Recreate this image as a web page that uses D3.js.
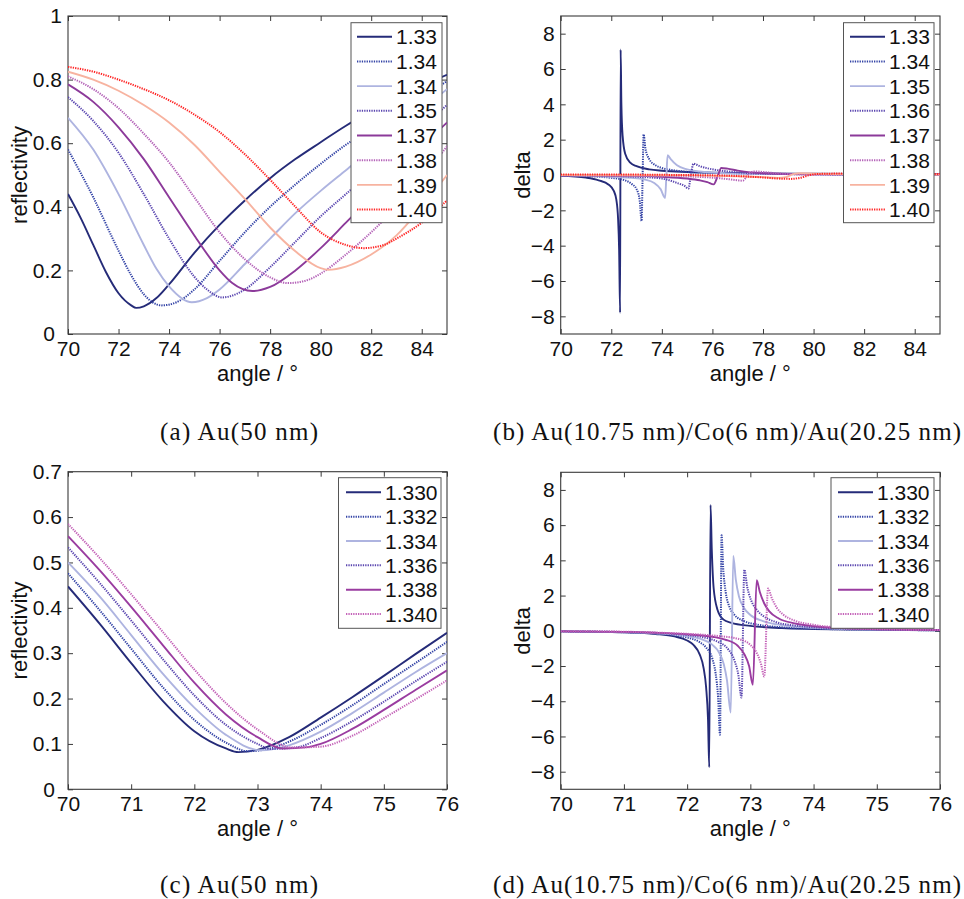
<!DOCTYPE html>
<html><head><meta charset="utf-8">
<script src="https://cdn.jsdelivr.net/npm/d3@7"></script>
<style>body{margin:0;background:#fff} svg{display:block}</style>
</head><body><svg id="c" width="964" height="899"></svg>
<script>
// ---------- DATA ----------
const xTicksWide = [70,72,74,76,78,80,82,84];
const xTicksNarrow = [70,71,72,73,74,75,76];
const yTicksA = [0,0.2,0.4,0.6,0.8,1];
const yTicksC = [0,0.1,0.2,0.3,0.4,0.5,0.6,0.7];
const yTicksDelta = [-8,-6,-4,-2,0,2,4,6,8];

const legendA = ["1.33","1.34","1.34","1.35","1.37","1.38","1.39","1.40"];
const legendB = ["1.33","1.34","1.35","1.36","1.37","1.38","1.39","1.40"];
const legendCD = ["1.330","1.332","1.334","1.336","1.338","1.340"];

const captions = ["(a) Au(50 nm)","(b) Au(10.75 nm)/Co(6 nm)/Au(20.25 nm)","(c) Au(50 nm)","(d) Au(10.75 nm)/Co(6 nm)/Au(20.25 nm)"];

// (a) reflectivity, Au(50 nm)
const reflA133 = [[70,0.44],[70.5,0.365],[71,0.28],[71.5,0.195],[72,0.128],[72.5,0.09],[72.7,0.082],[73,0.087],[73.5,0.113],[74,0.156],[75,0.255],[76,0.343],[77,0.42],[78,0.49],[79,0.55],[80,0.603],[81,0.655],[82,0.70],[83,0.74],[84,0.78],[85,0.815]];
const reflA134 = [[70,0.58],[71,0.43],[72,0.262],[72.5,0.185],[73,0.125],[73.7,0.09],[74.3,0.1],[75,0.14],[76,0.23],[77,0.32],[78,0.40],[79,0.47],[80,0.535],[81,0.595],[82,0.645],[83,0.695],[84,0.745],[85,0.795]];
const reflA134b = [[70,0.68],[71,0.58],[72,0.44],[73,0.28],[73.5,0.205],[74,0.15],[74.9,0.10],[75.5,0.113],[76,0.14],[77,0.22],[78,0.30],[79,0.38],[80,0.45],[81,0.515],[82,0.58],[83,0.64],[84,0.705],[85,0.77]];
const reflA135 = [[70,0.745],[71,0.67],[72,0.57],[73,0.44],[74,0.30],[75,0.18],[75.5,0.14],[76.1,0.115],[76.7,0.127],[77,0.14],[78,0.21],[79,0.29],[80,0.37],[81,0.44],[82,0.51],[83,0.58],[84,0.65],[85,0.72]];
const reflA137 = [[70,0.785],[71,0.73],[72,0.65],[73,0.55],[74,0.43],[75,0.31],[76,0.20],[76.5,0.16],[77.3,0.135],[78,0.148],[79,0.20],[80,0.27],[81,0.35],[82,0.43],[83,0.51],[84,0.59],[85,0.665]];
const reflA138 = [[70,0.81],[71,0.77],[72,0.71],[73,0.63],[74,0.54],[75,0.43],[76,0.32],[77,0.235],[78,0.178],[78.7,0.16],[79.5,0.17],[80,0.19],[81,0.25],[82,0.32],[83,0.40],[84,0.49],[85,0.59]];
const reflA139 = [[70,0.825],[71,0.80],[72,0.765],[73,0.72],[74,0.665],[75,0.595],[76,0.51],[77,0.425],[78,0.335],[79,0.26],[80,0.207],[80.3,0.202],[81,0.212],[82,0.25],[83,0.31],[84,0.40],[85,0.50]];
const reflA140 = [[70,0.84],[71,0.825],[72,0.80],[73,0.77],[74,0.735],[75,0.69],[76,0.635],[77,0.565],[78,0.485],[79,0.40],[80,0.32],[81,0.28],[81.7,0.27],[82.5,0.28],[83,0.30],[84,0.35],[85,0.42]];

// (b) delta, Au/Co/Au
const deltaB133 = [[70,-0.04],[71,-0.15],[71.5,-0.3],[71.9,-0.55],[72.1,-0.9],[72.2,-1.4],[72.27,-2.5],[72.31,-4.2],[72.35,-7.8],[72.37,7.1],[72.4,4],[72.45,2.2],[72.55,1.2],[72.75,0.7],[73,0.5],[73.5,0.32],[74,0.24],[75,0.17],[76,0.13],[78,0.09],[80,0.07],[82,0.05],[85,0.04]];
const deltaB134 = [[70,-0.02],[71,-0.06],[72,-0.16],[72.5,-0.28],[72.8,-0.5],[73,-0.8],[73.12,-1.4],[73.2,-2.6],[73.24,0],[73.28,2.3],[73.35,1.5],[73.5,0.9],[73.75,0.55],[74,0.4],[74.5,0.26],[75,0.18],[76,0.12],[78,0.07],[80,0.05],[85,0.03]];
const deltaB135 = [[70,-0.02],[71,-0.05],[72,-0.1],[72.8,-0.16],[73.3,-0.25],[73.7,-0.45],[73.95,-0.8],[74.13,-1.3],[74.18,0],[74.23,1.12],[74.35,0.9],[74.6,0.55],[75,0.32],[75.5,0.2],[76,0.14],[77,0.08],[80,0.04],[85,0.02]];
const deltaB136 = [[70,-0.01],[72,-0.05],[73,-0.1],[74,-0.2],[74.3,-0.3],[74.6,-0.45],[74.9,-0.62],[75.05,-0.77],[75.15,0],[75.25,0.64],[75.5,0.5],[76,0.32],[76.5,0.22],[77,0.15],[78,0.08],[80,0.04],[85,0.02]];
const deltaB137 = [[70,-0.01],[73,-0.05],[74,-0.1],[75,-0.2],[75.5,-0.3],[75.8,-0.4],[76.05,-0.53],[76.2,-0.1],[76.35,0.4],[76.6,0.36],[77,0.25],[77.5,0.15],[78,0.1],[79,0.05],[85,0.02]];
const deltaB138 = [[70,-0.01],[74,-0.05],[75,-0.08],[76,-0.15],[76.6,-0.23],[77,-0.3],[77.2,-0.32],[77.35,-0.1],[77.5,0.15],[77.7,0.2],[78,0.17],[78.5,0.1],[79,0.06],[80,0.03],[85,0.01]];
const deltaB139 = [[70,0],[75,-0.02],[77,-0.08],[78,-0.12],[78.6,-0.16],[78.9,-0.12],[79.2,0.05],[79.5,0.1],[80,0.08],[81,0.05],[85,0.02]];
const deltaB140 = [[70,0.03],[72,0.03],[74,0.01],[76,-0.02],[77,-0.06],[78,-0.14],[78.6,-0.2],[79.1,-0.22],[79.5,-0.15],[79.8,-0.02],[80.2,0.06],[81,0.08],[82,0.07],[83,0.06],[85,0.05]];

// (c) reflectivity, Au(50 nm), narrow range
const reflC1330 = [[70,0.447],[70.5,0.365],[71,0.278],[71.5,0.195],[72,0.128],[72.5,0.09],[72.7,0.082],[73,0.087],[73.5,0.115],[74,0.158],[74.5,0.203],[75,0.25],[75.5,0.298],[76,0.345]];
const reflC1332 = [[70,0.476],[70.5,0.395],[71,0.31],[71.5,0.225],[72,0.153],[72.5,0.103],[72.85,0.084],[73.2,0.09],[73.5,0.105],[74,0.142],[74.5,0.185],[75,0.232],[75.5,0.278],[76,0.325]];
const reflC1334 = [[70,0.50],[70.5,0.425],[71,0.34],[71.5,0.255],[72,0.18],[72.5,0.12],[73.05,0.086],[73.5,0.097],[74,0.127],[74.5,0.168],[75,0.213],[75.5,0.258],[76,0.30]];
const reflC1336 = [[70,0.533],[70.5,0.455],[71,0.372],[71.5,0.287],[72,0.207],[72.5,0.142],[73,0.1],[73.2,0.089],[73.6,0.092],[74,0.113],[74.5,0.15],[75,0.193],[75.5,0.238],[76,0.281]];
const reflC1338 = [[70,0.558],[70.5,0.483],[71,0.402],[71.5,0.318],[72,0.235],[72.5,0.165],[73,0.115],[73.4,0.09],[73.8,0.093],[74,0.1],[74.5,0.133],[75,0.175],[75.5,0.219],[76,0.262]];
const reflC1340 = [[70,0.585],[70.5,0.51],[71,0.43],[71.5,0.347],[72,0.264],[72.5,0.19],[73,0.132],[73.55,0.092],[74,0.094],[74.5,0.118],[75,0.157],[75.5,0.198],[76,0.24]];

// (d) delta, narrow range
const deltaD1330 = [[70,-0.03],[71,-0.09],[71.5,-0.18],[71.8,-0.32],[72,-0.55],[72.1,-0.8],[72.2,-1.35],[72.26,-2.1],[72.3,-3.2],[72.33,-5.0],[72.35,-7.75],[72.37,7.15],[72.39,4.6],[72.42,2.4],[72.48,1.2],[72.57,0.65],[72.7,0.45],[73,0.28],[73.5,0.15],[74,0.1],[75,0.05],[76,0.03]];
const deltaD1332 = [[70,-0.03],[71,-0.08],[71.5,-0.15],[71.8,-0.25],[72,-0.38],[72.2,-0.65],[72.3,-0.95],[72.4,-1.6],[72.45,-2.4],[72.49,-3.8],[72.52,-5.9],[72.545,5.42],[72.57,3.6],[72.61,2.2],[72.67,1.35],[72.75,0.9],[72.9,0.55],[73.1,0.36],[73.5,0.2],[74,0.12],[75,0.06],[76,0.03]];
const deltaD1334 = [[70,-0.03],[71,-0.08],[71.5,-0.14],[72,-0.3],[72.2,-0.45],[72.4,-0.8],[72.5,-1.2],[72.58,-1.9],[72.63,-2.8],[72.69,-4.64],[72.73,4.25],[72.77,2.9],[72.82,1.95],[72.9,1.3],[73,0.9],[73.2,0.55],[73.5,0.32],[74,0.17],[75,0.07],[76,0.04]];
const deltaD1336 = [[70,-0.03],[71,-0.07],[71.5,-0.12],[72,-0.24],[72.3,-0.4],[72.5,-0.65],[72.65,-1.05],[72.75,-1.7],[72.81,-2.5],[72.86,-3.79],[72.905,3.47],[72.95,2.5],[73.01,1.75],[73.1,1.2],[73.2,0.85],[73.4,0.5],[73.7,0.3],[74,0.2],[75,0.08],[76,0.04]];
const deltaD1338 = [[70,-0.03],[71,-0.06],[71.5,-0.11],[72,-0.2],[72.4,-0.34],[72.6,-0.5],[72.8,-0.85],[72.9,-1.3],[72.98,-2.0],[73.04,-3.07],[73.1,2.87],[73.15,2.2],[73.22,1.55],[73.3,1.1],[73.45,0.7],[73.7,0.42],[74,0.26],[74.5,0.14],[75,0.09],[76,0.04]];
const deltaD1340 = [[70,-0.02],[71,-0.05],[71.5,-0.1],[72,-0.17],[72.5,-0.3],[72.8,-0.45],[73,-0.8],[73.1,-1.25],[73.17,-1.9],[73.22,-2.6],[73.28,2.4],[73.34,1.85],[73.42,1.3],[73.52,0.92],[73.7,0.58],[74,0.34],[74.5,0.17],[75,0.1],[76,0.05]];

// ---------- STYLES ----------
const colors8 = ["#252b78","#3343a6","#aeb4e0","#5a46b0","#8c3a9a","#b462b8","#f7b3a0","#ff2424"];
const dotted8 = [false,true,false,true,false,true,false,true];
const colors6 = ["#252b78","#3343a6","#aeb4e0","#5a46b0","#9a3ca0","#c462b8"];
const dotted6 = [false,true,false,true,false,true];

const panels = [
  {x0:68,x1:447,y0:16,y1:334,xdom:[70,85],ydom:[0,1],xt:xTicksWide,yt:yTicksA,yfmt:d3.format("~g"),ylabel:"reflectivity",ylx:20,
   series:[reflA133,reflA134,reflA134b,reflA135,reflA137,reflA138,reflA139,reflA140],labels:legendA,colors:colors8,dotted:dotted8,
   leg:{x0:351,x1:442,y0:22.7,y1:222.7,lx0:357,lx1:392,tx:396,r0:36.7,dr:24.7},cap:captions[0],capx:160,capy:440,capw:158},
  {x0:560.7,x1:940,y0:16,y1:334,xdom:[70,85],ydom:[-9,9],xt:xTicksWide,yt:yTicksDelta,yfmt:d3.format("d"),ylabel:"delta",ylx:523,
   series:[deltaB133,deltaB134,deltaB135,deltaB136,deltaB137,deltaB138,deltaB139,deltaB140],labels:legendB,colors:colors8,dotted:dotted8,
   leg:{x0:843.5,x1:934,y0:22.7,y1:222.7,lx0:850,lx1:885,tx:889,r0:36.7,dr:24.7},cap:captions[1],capx:493,capy:440,capw:468},
  {x0:68,x1:447,y0:471.7,y1:789.3,xdom:[70,76],ydom:[0,0.7],xt:xTicksNarrow,yt:yTicksC,yfmt:d3.format("~g"),ylabel:"reflectivity",ylx:20,
   series:[reflC1330,reflC1332,reflC1334,reflC1336,reflC1338,reflC1340],labels:legendCD,colors:colors6,dotted:dotted6,
   leg:{x0:338.5,x1:441,y0:477.7,y1:628.3,lx0:346,lx1:381,tx:385,r0:492.3,dr:24.35},cap:captions[2],capx:160,capy:893,capw:158},
  {x0:560.7,x1:940,y0:472.3,y1:789.3,xdom:[70,76],ydom:[-9,9],xt:xTicksNarrow,yt:yTicksDelta,yfmt:d3.format("d"),ylabel:"delta",ylx:523,
   series:[deltaD1330,deltaD1332,deltaD1334,deltaD1336,deltaD1338,deltaD1340],labels:legendCD,colors:colors6,dotted:dotted6,
   leg:{x0:831,x1:934,y0:477.7,y1:628.3,lx0:838,lx1:873,tx:877,r0:492.3,dr:24.35},cap:captions[3],capx:493,capy:893,capw:468}
];

const svg = d3.select("#c");
const FONT = "'Liberation Sans', Arial, Helvetica, sans-serif";
const AXC = "#3a3a3a";
const TFS = 21;

panels.forEach((p,i)=>{
  const x = d3.scaleLinear().domain(p.xdom).range([p.x0,p.x1]);
  const y = d3.scaleLinear().domain(p.ydom).range([p.y1,p.y0]);
  const g = svg.append("g");
  const cid = "clip"+i;
  svg.append("defs").append("clipPath").attr("id",cid).append("rect")
    .attr("x",p.x0).attr("y",p.y0).attr("width",p.x1-p.x0).attr("height",p.y1-p.y0);

  // axes with inward ticks on all four sides
  const tl = 5;
  const bottom = d3.axisBottom(x).tickValues(p.xt).tickSize(-tl).tickPadding(7).tickFormat(d3.format("d"));
  const top = d3.axisTop(x).tickValues(p.xt).tickSize(-tl).tickFormat("");
  const left = d3.axisLeft(y).tickValues(p.yt).tickSize(-tl).tickPadding(6).tickFormat(p.yfmt);
  const right = d3.axisRight(y).tickValues(p.yt).tickSize(-tl).tickFormat("");
  [[bottom,`translate(0,${p.y1})`,"b"],[top,`translate(0,${p.y0})`,"t"],[left,`translate(${p.x0},0)`,"l"],[right,`translate(${p.x1},0)`,"r"]].forEach(([ax,tr,side])=>{
    const a = g.append("g").attr("transform",tr).call(ax);
    a.select(".domain").remove();
    a.selectAll("line").attr("stroke",AXC).attr("stroke-width",1);
    a.selectAll("text").attr("font-family",FONT).attr("font-size",TFS).attr("fill","#111");
    if (side==="l") {
      // nudge the bottom-corner label so it does not sit on top of the first x label
      a.selectAll(".tick").filter(d=>y(d)>p.y1-1).select("text").attr("x",-13);
    }
  });
  g.append("rect").attr("x",p.x0).attr("y",p.y0).attr("width",p.x1-p.x0).attr("height",p.y1-p.y0)
    .attr("fill","none").attr("stroke",AXC).attr("stroke-width",1.1);

  // lines
  const line = d3.line().x(d=>x(d[0])).y(d=>y(d[1])).curve(d3.curveMonotoneX);
  const lg = g.append("g").attr("clip-path",`url(#${cid})`);
  p.series.forEach((s,k)=>{
    lg.append("path").attr("d",line(s)).attr("fill","none")
      .attr("stroke",p.colors[k]).attr("stroke-width",p.dotted[k]?2:1.9)
      .attr("stroke-dasharray",p.dotted[k]?"1.3 1.1":null)
      .attr("stroke-linejoin","round");
  });

  // legend
  const L = p.leg;
  g.append("rect").attr("x",L.x0).attr("y",L.y0).attr("width",L.x1-L.x0).attr("height",L.y1-L.y0)
    .attr("fill","#fff").attr("stroke","#555").attr("stroke-width",1);
  p.labels.forEach((lab,k)=>{
    const yy = L.r0 + k*L.dr;
    g.append("line").attr("x1",L.lx0).attr("x2",L.lx1).attr("y1",yy).attr("y2",yy)
      .attr("stroke",p.colors[k]).attr("stroke-width",p.dotted[k]?2:1.9)
      .attr("stroke-dasharray",p.dotted[k]?"1.3 1.1":null);
    g.append("text").attr("x",L.tx).attr("y",yy+7.6).text(lab)
      .attr("font-family",FONT).attr("font-size",TFS).attr("fill","#111");
  });

  // axis labels
  g.append("text").attr("x",(p.x0+p.x1)/2).attr("y",p.y1+47).attr("text-anchor","middle")
    .attr("font-family",FONT).attr("font-size",22).attr("fill","#111").text("angle / °");
  g.append("text").attr("transform",`translate(${p.ylx+7},${(p.y0+p.y1)/2}) rotate(-90)`).attr("text-anchor","middle")
    .attr("font-family",FONT).attr("font-size",22).attr("fill","#111").text(p.ylabel);

  // caption
  g.append("text").attr("x",p.capx).attr("y",p.capy)
    .attr("font-family","'Liberation Serif','Times New Roman',serif").attr("font-size",25).attr("fill","#111")
    .attr("textLength",p.capw).attr("lengthAdjust","spacing")
    .text(p.cap);
});
</script></body></html>
